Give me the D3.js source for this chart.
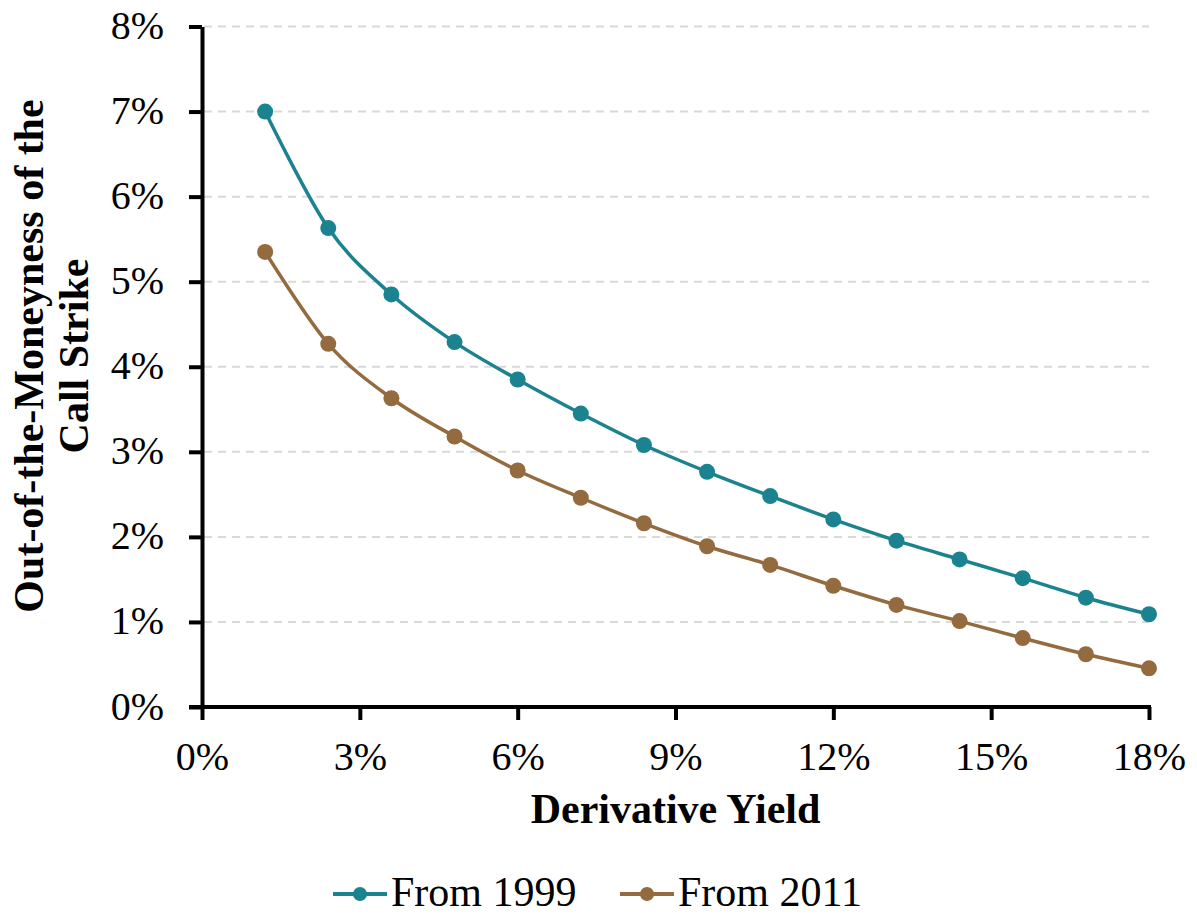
<!DOCTYPE html>
<html>
<head>
<meta charset="utf-8">
<script src="https://cdn.jsdelivr.net/npm/d3@7"></script>
<style>
  body { margin: 0; background: #fff; }
  text { font-family: "Liberation Serif", "Times New Roman", serif; fill: #000; }
</style>
</head>
<body>
<script>
// derivative yield (%) for each point
var yields = [1.2, 2.4, 3.6, 4.8, 6.0, 7.2, 8.4, 9.6, 10.8, 12.0, 13.2, 14.4, 15.6, 16.8, 18.0];
// out-of-the-moneyness (%)
var from1999 = [7.00, 5.63, 4.85, 4.29, 3.85, 3.45, 3.08, 2.765, 2.48, 2.205, 1.955, 1.735, 1.515, 1.285, 1.09];
var from2011 = [5.35, 4.27, 3.63, 3.18, 2.78, 2.46, 2.16, 1.89, 1.67, 1.425, 1.20, 1.01, 0.81, 0.62, 0.455];
var xTicks = [0, 3, 6, 9, 12, 15, 18];
var yTicks = [0, 1, 2, 3, 4, 5, 6, 7, 8];
var seriesNames = ["From 1999", "From 2011"];
var seriesColors = ["#1b8390", "#946a3f"];

var W = 1197, H = 918;
var svg = d3.select("body").append("svg")
    .attr("width", W)
    .attr("height", H);

var x = d3.scaleLinear().domain([0, 18]).range([202, 1149]);
var y = d3.scaleLinear().domain([0, 8]).range([707, 26.5]);

// gridlines
svg.selectAll(".grid")
    .data(yTicks.filter(function(d){ return d > 0; }))
    .enter().append("line")
    .attr("x1", x(0) + 2).attr("x2", x(18))
    .attr("y1", function(d){ return y(d); })
    .attr("y2", function(d){ return y(d); })
    .attr("stroke", "#d9d9d9")
    .attr("stroke-width", 2)
    .attr("stroke-dasharray", "8,6");

// y axis
var yAxis = d3.axisLeft(y)
    .tickValues(yTicks)
    .tickSize(13)
    .tickSizeOuter(0)
    .tickPadding(25)
    .tickFormat(function(d){ return d + "%"; });
var gy = svg.append("g").attr("transform", "translate(" + x(0) + ",0)").call(yAxis);
gy.select(".domain").attr("stroke-width", 4).attr("stroke", "#000");
gy.selectAll(".tick line").attr("stroke-width", 4).attr("stroke", "#000");
gy.selectAll(".tick text")
    .attr("font-family", "Liberation Serif")
    .attr("font-size", 40)
    .attr("dy", "0.3em");

// x axis
var xAxis = d3.axisBottom(x)
    .tickValues(xTicks)
    .tickSize(13)
    .tickSizeOuter(0)
    .tickPadding(22)
    .tickFormat(function(d){ return d + "%"; });
var gx = svg.append("g").attr("transform", "translate(0," + y(0) + ")").call(xAxis);
gx.select(".domain").attr("stroke-width", 4).attr("stroke", "#000")
    .attr("d", "M" + (x(0) - 13) + ",0H" + (x(18) + 2));
gx.selectAll(".tick line").attr("stroke-width", 4).attr("stroke", "#000");
gx.selectAll(".tick text")
    .attr("font-family", "Liberation Serif")
    .attr("font-size", 40)
    .attr("dy", "0.71em");

// lines
var line = d3.line()
    .x(function(d){ return x(d[0]); })
    .y(function(d){ return y(d[1]); })
    .curve(d3.curveCardinal.tension(0));

[from1999, from2011].forEach(function(vals, i){
    var pts = yields.map(function(v, j){ return [v, vals[j]]; });
    svg.append("path")
        .datum(pts)
        .attr("d", line)
        .attr("fill", "none")
        .attr("stroke", seriesColors[i])
        .attr("stroke-width", 3.5);
    svg.selectAll(".dot" + i)
        .data(pts)
        .enter().append("circle")
        .attr("cx", function(d){ return x(d[0]); })
        .attr("cy", function(d){ return y(d[1]); })
        .attr("r", 8)
        .attr("fill", seriesColors[i]);
});

// axis titles
svg.append("text")
    .attr("x", (x(0) + x(18)) / 2)
    .attr("y", 823)
    .attr("text-anchor", "middle")
    .attr("font-size", 42)
    .attr("font-weight", "bold")
    .text("Derivative Yield");

var yt = svg.append("text")
    .attr("transform", "translate(43,356) rotate(-90)")
    .attr("text-anchor", "middle")
    .attr("font-size", 42)
    .attr("font-weight", "bold");
yt.append("tspan").attr("x", 0).attr("y", 0).text("Out-of-the-Moneyness of the");
yt.append("tspan").attr("x", 0).attr("y", 45).text("Call Strike");

// legend
var legX = [333, 620];
var leg = svg.selectAll(".leg")
    .data(seriesNames)
    .enter().append("g")
    .attr("transform", function(d, i){ return "translate(" + legX[i] + ",894)"; });
leg.append("line")
    .attr("x1", 0).attr("x2", 54)
    .attr("stroke", function(d, i){ return seriesColors[i]; })
    .attr("stroke-width", 4);
leg.append("circle")
    .attr("cx", 27).attr("r", 7)
    .attr("fill", function(d, i){ return seriesColors[i]; });
leg.append("text")
    .attr("x", 58)
    .attr("y", 12)
    .attr("font-size", 42)
    .text(function(d){ return d; });
</script>
</body>
</html>
